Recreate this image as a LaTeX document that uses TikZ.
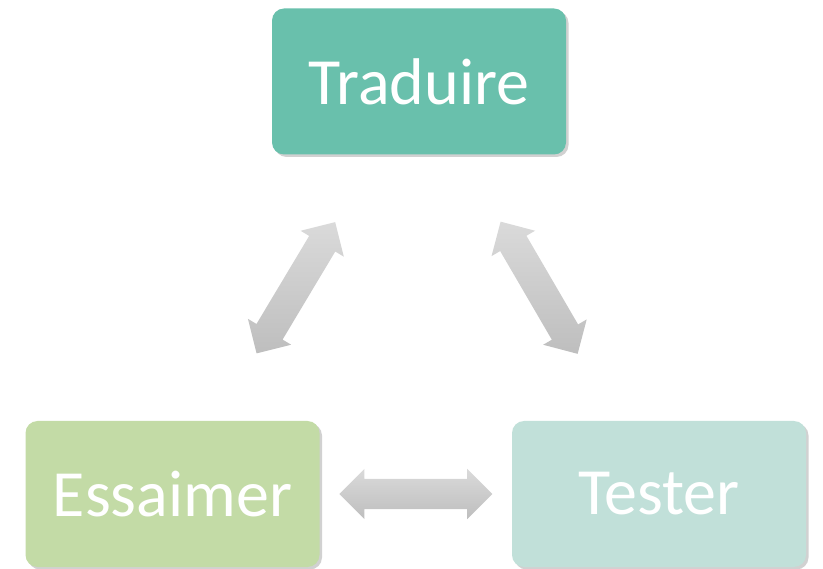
\documentclass[tikz,border=0pt]{standalone}
\usepackage{fontspec}
\setmainfont{Carlito}
\usetikzlibrary{shapes.arrows}
\usetikzlibrary{shadows}
\usetikzlibrary{positioning}
\definecolor{tradgreen}{HTML}{69C0AC}
\definecolor{essgreen}{HTML}{C3DBA6}
\definecolor{testgreen}{HTML}{C1E0D9}
\definecolor{arrowlight}{HTML}{DADADA}
\definecolor{arrowdark}{HTML}{BEBEBE}
\tikzset{
    stage/.style = {rectangle, rounded corners=12pt, minimum width=294pt, minimum height=146pt, text=white, font=\fontsize{66}{72}\selectfont, drop shadow={shadow xshift=2.5pt, shadow yshift=-2.5pt, opacity=0.3, fill=black!60}},
    staget/.style = {stage, fill=tradgreen},
    stagee/.style = {stage, fill=essgreen},
    stages/.style = {stage, fill=testgreen},
    dblarrow/.style = {double arrow, draw=none, inner xsep=0pt, inner ysep=15pt, minimum height=153pt, double arrow head extend=10pt, top color=arrowlight, bottom color=arrowdark, sloped}
}
\begin{document}
\begin{tikzpicture}[x=1pt,y=1pt]
\useasboundingbox (0,0) rectangle (823,-569);
%
\node[staget] at (419,-81.5) (trad) {Traduire};
\node[stagee] at (172.5,-494) (ess) {Essaimer};
\node[stages] at (659,-494) (test) {Tester};
%
\path (ess) -- node[dblarrow] {} (trad);
\path (trad) -- node[dblarrow] {} (test);
\path (ess) -- node[dblarrow] {} (test);
\end{tikzpicture}
\end{document}
